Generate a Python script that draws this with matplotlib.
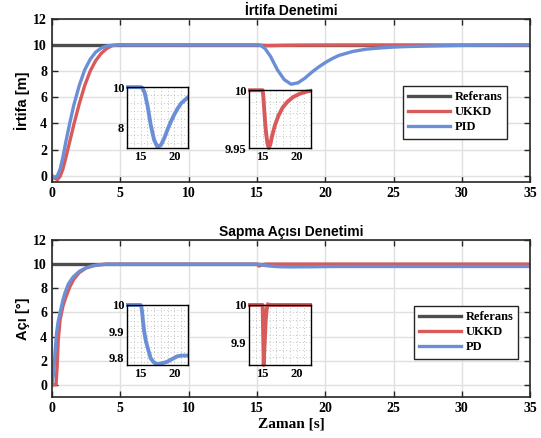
import numpy as np
import matplotlib
matplotlib.use("Agg")
import matplotlib.pyplot as plt
from matplotlib.ticker import AutoMinorLocator

# ---- data ----
t_ref = [0, 35]
y_ref = [10, 10]

# altitude (İrtifa)
t_h_ukkd = [0, 0.2, 0.4, 0.6, 0.8, 1.0, 1.3, 1.6, 2.0, 2.4, 2.8, 3.2, 3.6, 4.0, 4.4, 5.0, 6.0, 10.0,
            15.0, 15.1, 15.2, 15.35, 15.5, 15.7, 15.9, 16.1, 16.4, 16.8, 17.3, 17.9, 18.6, 19.4,
            20.4, 21.5, 22.5, 35.0]
y_h_ukkd = [0, -0.2, -0.3, -0.05, 0.5, 1.3, 2.6, 3.9, 5.5, 6.9, 8.0, 8.8, 9.35, 9.72, 9.95, 10.02, 10.01, 10.0,
            10.0, 9.995, 9.986, 9.973, 9.963, 9.954, 9.950, 9.953, 9.961, 9.970, 9.978, 9.985, 9.990, 9.994,
            9.997, 9.999, 10.0, 10.0]

t_h_pid = [0, 0.2, 0.4, 0.6, 0.8, 1.0, 1.3, 1.6, 2.0, 2.4, 2.8, 3.2, 3.6, 4.0, 4.5, 5.0, 6.0, 10.0,
           15.0, 15.15, 15.3, 15.6, 16.0, 16.5, 17.0, 17.5, 18.0, 18.5, 19.0, 19.5, 20.0, 20.5, 21.0, 22.0,
           23.0, 24.0, 25.0, 26.0, 28.0, 30.0, 32.0, 35.0]
y_h_pid = [0, -0.15, 0.0, 0.5, 1.4, 2.5, 4.0, 5.4, 6.9, 8.1, 8.9, 9.45, 9.76, 9.92, 9.99, 10.0, 10.0, 10.0,
           10.0, 9.99, 9.95, 9.72, 9.12, 8.1, 7.35, 7.0, 7.1, 7.45, 7.9, 8.3, 8.65, 8.95, 9.2, 9.5,
           9.68, 9.77, 9.84, 9.88, 9.93, 9.97, 9.99, 10.0]

# yaw angle (Sapma Açısı)
t_p_ukkd = [0, 0.3, 0.38, 0.46, 0.6, 0.8, 1.0, 1.3, 1.6, 2.0, 2.5, 3.0, 3.5, 4.0,
            15.0, 15.05, 15.15, 15.3, 15.45, 15.6, 15.75, 16.0, 35.0]
y_p_ukkd = [0, 0, 1.5, 3.7, 5.4, 6.5, 7.2, 8.1, 8.75, 9.3, 9.68, 9.87, 9.95, 10.0,
            10.0, 9.95, 9.84, 9.90, 9.96, 9.99, 10.002, 10.0, 10.0]

t_p_pid = [0, 0.08, 0.15, 0.22, 0.34, 0.45, 0.6, 0.8, 0.95, 1.2, 1.56, 2.0, 2.5, 3.0, 3.5, 4.0,
           15.0, 15.1, 15.2, 15.35, 15.5, 15.75, 16.0, 16.5, 17.0, 17.5, 18.2, 18.9, 19.6, 20.4, 21.0,
           22.0, 35.0]
y_p_pid = [0, 0.6, 1.3, 2.6, 4.3, 5.2, 6.0, 7.0, 7.6, 8.35, 8.95, 9.4, 9.7, 9.86, 9.95, 10.0,
           10.0, 9.995, 9.978, 9.94, 9.904, 9.865, 9.84, 9.795, 9.779, 9.774, 9.777, 9.782, 9.792, 9.803,
           9.806, 9.806, 9.806]

labels_top = ["Referans", "UKKD", "PID"]
labels_bot = ["Referans", "UKKD", "PD"]
x_ticks = [0, 5, 10, 15, 20, 25, 30, 35]

C_REF = "#4d4d4d"
C_UKKD = "#d85a5a"
C_PID = "#6b8fd6"
SERIF = "Liberation Serif"
SANS = "Liberation Sans"

fig = plt.figure(figsize=(5.41, 4.38), dpi=100)


def style_main(ax, ylim, yticks):
    ax.set_xlim(0, 35)
    ax.set_ylim(*ylim)
    ax.set_xticks(x_ticks)
    ax.set_yticks(yticks)
    ax.grid(True, color="#e0e0e0", lw=1.0)
    ax.set_axisbelow(True)
    ax.tick_params(direction="in", top=True, right=True, length=4, width=1, color="#262626")
    for s in ax.spines.values():
        s.set_color("#262626")
        s.set_linewidth(1.2)
    for lab in ax.get_xticklabels() + ax.get_yticklabels():
        lab.set_fontfamily(SERIF)
        lab.set_fontweight("bold")
        lab.set_fontsize(10)


def add_inset(rect, series, ylim, yticks, yfmt):
    ins = fig.add_axes(rect)
    clip = plt.Rectangle((-0.02, -0.08), 1.04, 1.16, transform=ins.transAxes, visible=False)
    ins.add_patch(clip)
    for t, y, c in series:
        ln, = ins.plot(t, y, color=c, lw=2.8, solid_capstyle="butt", solid_joinstyle="round")
        ln.set_clip_path(clip)
    ins.set_xlim(13, 22)
    ins.set_ylim(*ylim)
    ins.set_xticks([15, 20])
    ins.set_yticks(yticks)
    ins.set_yticklabels([yfmt.format(v) for v in yticks])
    ins.xaxis.set_minor_locator(AutoMinorLocator(5))
    ins.yaxis.set_minor_locator(AutoMinorLocator(5))
    ins.grid(True, which="both", color="#b0b0b0", ls=(0, (1, 3)), lw=0.6)
    ins.tick_params(which="both", length=0, pad=2)
    for s in ins.spines.values():
        s.set_color("black")
        s.set_linewidth(1.0)
    for lab in ins.get_xticklabels() + ins.get_yticklabels():
        lab.set_fontfamily(SERIF)
        lab.set_fontweight("bold")
        lab.set_fontsize(9)
    return ins


# ---- top: altitude ----
ax1 = fig.add_axes([0.096, 0.584, 0.884, 0.373])
ax1.plot(t_ref, y_ref, color=C_REF, lw=2.4, label=labels_top[0])
ax1.plot(t_h_ukkd, y_h_ukkd, color=C_UKKD, lw=2.4, label=labels_top[1])
ax1.plot(t_h_pid, y_h_pid, color=C_PID, lw=2.4, label=labels_top[2])
style_main(ax1, (-0.5, 12), [0, 2, 4, 6, 8, 10, 12])
ax1.set_title("İrtifa Denetimi", fontfamily=SANS, fontweight="bold", fontsize=10, pad=3)
ax1.set_ylabel("İrtifa [m]", fontfamily=SANS, fontweight="bold", fontsize=10.5, labelpad=2)
leg1 = ax1.legend(loc="upper left", bbox_to_anchor=(397 / 541, 1 - 80 / 438),
                  bbox_transform=fig.transFigure, handlelength=3.3, fancybox=False,
                  edgecolor="#262626", framealpha=1,
                  prop={"family": SERIF, "weight": "bold", "size": 9},
                  borderpad=0.4, labelspacing=0.25, handletextpad=0.4)
leg1.get_frame().set_linewidth(1.0)

add_inset([0.2348, 0.662, 0.1128, 0.139], [(t_h_pid, y_h_pid, C_PID)],
          (6.95, 10.0), [8, 10], "{:g}")
add_inset([0.460, 0.662, 0.1146, 0.132], [(t_h_ukkd, y_h_ukkd, C_UKKD)],
          (9.95, 10.0), [9.95, 10], "{:g}")

# ---- bottom: yaw ----
ax2 = fig.add_axes([0.096, 0.094, 0.884, 0.358])
ax2.plot(t_ref, y_ref, color=C_REF, lw=2.4, label=labels_bot[0])
ax2.plot(t_p_ukkd, y_p_ukkd, color=C_UKKD, lw=2.4, label=labels_bot[1])
ax2.plot(t_p_pid, y_p_pid, color=C_PID, lw=2.4, label=labels_bot[2])
style_main(ax2, (-1, 12), [0, 2, 4, 6, 8, 10, 12])
ax2.set_title("Sapma Açısı Denetimi", fontfamily=SANS, fontweight="bold", fontsize=10, pad=3)
ax2.set_ylabel("Açı [°]", fontfamily=SANS, fontweight="bold", fontsize=10.5, labelpad=2)
ax2.set_xlabel("Zaman [s]", fontfamily=SERIF, fontweight="bold", fontsize=11, labelpad=2)
leg2 = ax2.legend(loc="upper left", bbox_to_anchor=(408 / 541, 1 - 300 / 438),
                  bbox_transform=fig.transFigure, handlelength=3.3, fancybox=False,
                  edgecolor="#262626", framealpha=1,
                  prop={"family": SERIF, "weight": "bold", "size": 9},
                  borderpad=0.4, labelspacing=0.25, handletextpad=0.4)
leg2.get_frame().set_linewidth(1.0)

add_inset([0.2348, 0.1667, 0.1128, 0.137], [(t_p_pid, y_p_pid, C_PID)],
          (9.77, 10.0), [9.8, 9.9, 10], "{:g}")
add_inset([0.460, 0.1667, 0.1146, 0.137], [(t_p_ukkd, y_p_ukkd, C_UKKD)],
          (9.84, 10.0), [9.9, 10], "{:g}")

fig.savefig("out.png", dpi=100)
